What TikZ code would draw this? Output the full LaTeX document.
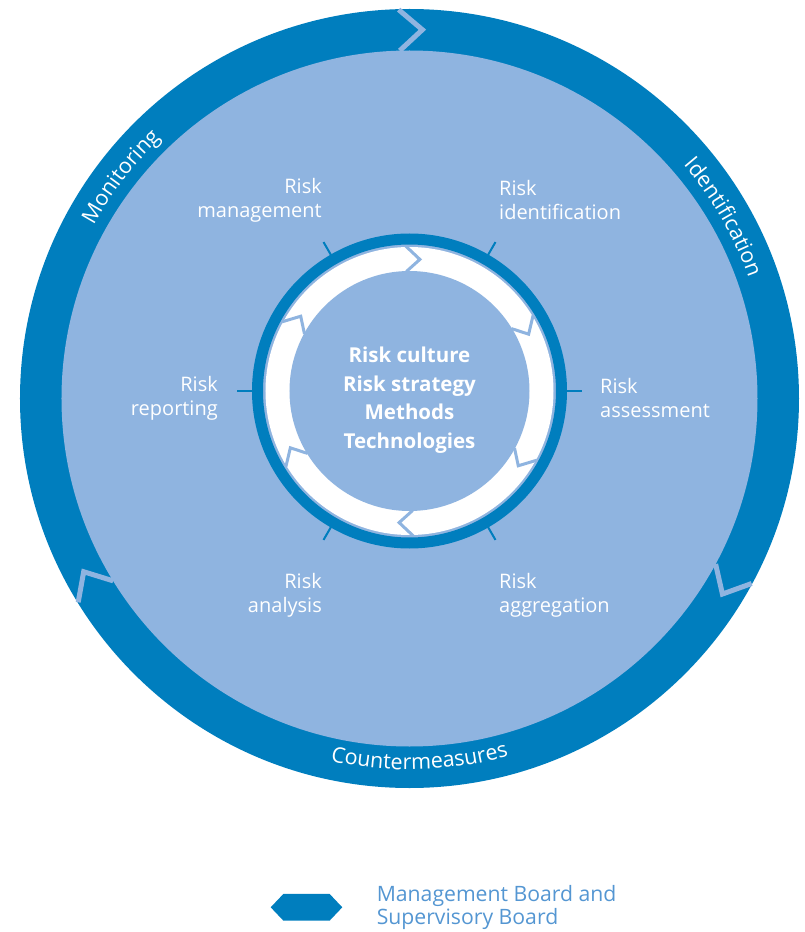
\documentclass[tikz,border=0pt]{standalone}
\usepackage{fontspec}
\setmainfont{Open Sans}
\usepackage{tikz}
\usetikzlibrary{positioning}
\usetikzlibrary{decorations.text}
\usetikzlibrary{shapes.symbols}
\usepackage{xcolor}

\definecolor{ringblue}{RGB}{0,126,190}
\definecolor{paleblue}{RGB}{143,180,224}
\definecolor{legendblue}{RGB}{84,150,210}

\newcommand{\ringfont}{\fontsize{21.5}{21.5}\selectfont\color{white}}

\tikzset{
    steplabel/.style={text=white, inner sep=0pt, font=\fontsize{20}{24}\selectfont},
    bigchevron/.style={draw=paleblue, line width=5pt},
    smallchevron/.style={draw=paleblue, line width=3pt},
    ticks/.style={draw=ringblue, line width=2pt},
}

\begin{document}
\begin{tikzpicture}[x=1pt, y=1pt]
    \useasboundingbox (-409.5,-533.5) rectangle (395.5,398.5);

    % Outer ring
    \fill[ringblue] (0,0) circle[radius=389.5];
    \fill[paleblue] (0,0) circle[radius=348];
    \foreach \a in {88,-32,208}
        \draw[bigchevron] ({\a+3.6}:389) -- (\a:369) -- ({\a+3.6}:348);

    % Ring texts
    \path[decorate, decoration={text along path, text align=center,
        text={|\ringfont|Monitoring}}]
        (170:360) arc[start angle=170, end angle=115, radius=360];
    \path[decorate, decoration={text along path, text align=center,
        text={|\ringfont|Identification}}]
        (60:360) arc[start angle=60, end angle=0, radius=360];
    \path[decorate, decoration={text along path, text align=center,
        text={|\ringfont|Countermeasures}}]
        (-118:371) arc[start angle=-118, end angle=-58.8, radius=371];

    % Inner cycle
    \begin{scope}[shift={(0,7.5)}]
        \foreach \a in {0,60,...,300}
            \draw[ticks] (\a:157) -- (\a:172);
        \fill[white] (0,0) circle[radius=144];
        \draw[ringblue, line width=11pt] (0,0) circle[radius=152];
        \fill[paleblue] (0,0) circle[radius=120];
        \foreach \a in {30,90,150,210,270,330}
            \draw[smallchevron] ({\a+1.5}:145) -- ({\a-4.5}:132) -- ({\a+1.5}:119.5);
    \end{scope}

    % Centre
    \node[text=white, align=center, inner sep=0pt,
        font=\bfseries\fontsize{20.5}{28.5}\selectfont] (core) at (0,-1.5)
        {Risk culture\\Risk strategy\\Methods\\Technologies};

    % Steps
    \node[steplabel, anchor=east, align=right] (mgmt) at (-87.5,198.5) {Risk\\management};
    \node[steplabel, anchor=west, align=left] (ident) at (89.5,198.5) {Risk\\identification};
    \node[steplabel, anchor=west, align=left] (assess) at (190.5,0.5) {Risk\\assessment};
    \node[steplabel, anchor=east, align=right] (report) at (-191.5,0.5) {Risk\\reporting};
    \node[steplabel, anchor=east, align=right] (anal) at (-87.5,-196.5) {Risk\\analysis};
    \node[steplabel, anchor=west, align=left] (aggr) at (89.5,-196.5) {Risk\\aggregation};

    % Legend
    \node[signal, signal to=east and west, signal pointer angle=93,
        fill=ringblue, inner sep=0pt, minimum width=71.6pt, minimum height=26.7pt]
        (boardmark) at (-103,-508.8) {};
    \node[right=34pt of boardmark, text=legendblue, align=left, inner sep=0pt,
        font=\fontsize{21.2}{23}\selectfont] (boardtext)
        {Management Board and\\Supervisory Board};
\end{tikzpicture}
\end{document}
